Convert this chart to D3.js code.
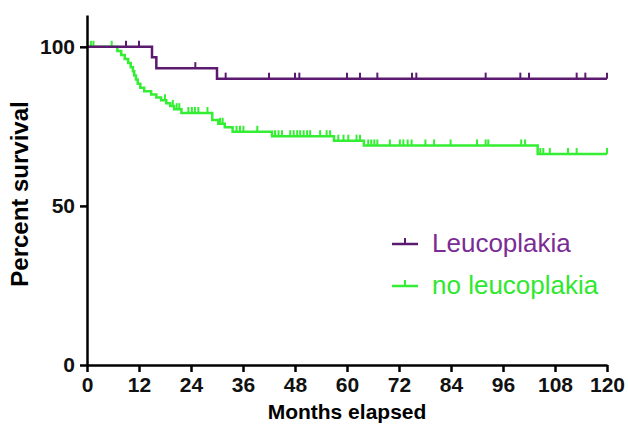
<!DOCTYPE html>
<html lang="en">
<head>
<meta charset="UTF-8">
<title>Survival curves</title>
<script src="https://cdnjs.cloudflare.com/ajax/libs/d3/7.8.5/d3.min.js"></script>
<style>
    body { margin: 0; background: #fff; }
    svg { display: block; font-family: "Liberation Sans", Arial, sans-serif; }
    .axis path, .axis line { stroke: #000; stroke-width: 2.5px; }
    .axis text { font-size: 21px; font-weight: bold; fill: #111; }
</style>
</head>
<body>
<div id="chart"></div>
<script>
// Leucoplakia group
const leucoEventMonths   = [15.0, 16.0, 30.0];
const leucoEventSurvival = [96.7, 93.3, 90.0];
const leucoCensorMonths  = [9, 12, 25, 32, 42, 48, 49, 60, 63, 67, 75, 76, 92, 100, 102, 113, 115, 120];

// no leucoplakia group
const noLeucoEventMonths   = [7.0, 7.9, 8.7, 9.5, 10.1, 10.6, 10.9, 11.3, 11.7, 12.3, 13.2, 14.8, 16.0, 17.1, 18.3, 19.2, 20.1, 21.8, 28.9, 30.3, 31.8, 33.6, 42.7, 57.0, 63.9, 104.0];
const noLeucoEventSurvival = [98.7, 97.4, 96.2, 94.9, 93.6, 92.3, 91.0, 89.7, 88.4, 87.1, 86.0, 85.0, 84.1, 83.2, 82.3, 81.4, 80.4, 79.2, 77.0, 75.8, 74.7, 73.3, 71.9, 70.5, 69.0, 66.3];
const noLeucoCensorMonths  = [0.9, 1.5, 5.7, 18.0, 19.8, 20.7, 21.3, 23.4, 24.2, 24.9, 25.7, 27.8, 30.7, 31.3, 34.5, 35.3, 36.1, 39.3,
    43.4, 44.2, 45.0, 46.9, 47.7, 48.5, 49.2, 50.0, 50.8, 51.5, 53.8, 55.3, 56.1, 58.0, 59.2, 60.3, 62.2, 63.0,
    64.9, 65.6, 66.3, 67.0, 69.9, 72.2, 73.0, 74.0, 74.9, 78.1, 80.1, 83.9, 90.0, 92.0, 92.6, 100.2, 101.1,
    104.6, 105.3, 106.8, 111.0, 113.0, 120];

const groupNames  = ["Leucoplakia", "no leucoplakia"];
const lineColors  = ["#5b1a70", "#33ee33"];
const textColors  = ["#7b2c94", "#2ee82e"];

const xTicks = [0, 12, 24, 36, 48, 60, 72, 84, 96, 108, 120];
const yTicks = [0, 50, 100];
const maxMonth = 120;

const width = 628, height = 427;
const margin = { top: 15, right: 21, bottom: 62, left: 87 };

const svg = d3.select("#chart").append("svg")
    .attr("width", width)
    .attr("height", height);

const x = d3.scaleLinear().domain([0, 120]).range([margin.left, width - margin.right]);
const y = d3.scaleLinear().domain([0, 110]).range([height - margin.bottom, margin.top]);

function stepPoints(months, surv) {
    const pts = [[0, 100]];
    months.forEach((m, i) => pts.push([m, surv[i]]));
    pts.push([maxMonth, surv[surv.length - 1]]);
    return pts;
}

function survivalAt(months, surv, t) {
    const i = d3.bisectRight(months, t);
    return i === 0 ? 100 : surv[i - 1];
}

const groups = [
    { months: leucoEventMonths, surv: leucoEventSurvival, censor: leucoCensorMonths },
    { months: noLeucoEventMonths, surv: noLeucoEventSurvival, censor: noLeucoCensorMonths }
];

const line = d3.line()
    .x(d => x(d[0]))
    .y(d => y(d[1]))
    .curve(d3.curveStepAfter);

// draw green first so purple sits on top at 100%
[1, 0].forEach(gi => {
    const g = groups[gi];
    svg.append("path")
        .attr("d", line(stepPoints(g.months, g.surv)))
        .attr("fill", "none")
        .attr("stroke", lineColors[gi])
        .attr("stroke-width", 2.5);

    svg.append("g")
        .selectAll("line")
        .data(g.censor)
        .enter().append("line")
        .attr("x1", d => x(d))
        .attr("x2", d => x(d))
        .attr("y1", d => y(survivalAt(g.months, g.surv, d)))
        .attr("y2", d => y(survivalAt(g.months, g.surv, d)) - 6)
        .attr("stroke", lineColors[gi])
        .attr("stroke-width", 2);
});

// axes
svg.append("g")
    .attr("class", "axis")
    .attr("transform", `translate(0,${y(0)})`)
    .call(d3.axisBottom(x).tickValues(xTicks).tickSize(7).tickPadding(5).tickSizeOuter(0));

svg.append("g")
    .attr("class", "axis")
    .attr("transform", `translate(${x(0)},0)`)
    .call(d3.axisLeft(y).tickValues(yTicks).tickSize(7).tickPadding(5).tickSizeOuter(0));

svg.selectAll(".axis .domain").attr("stroke-width", 2.5);

// axis titles
svg.append("text")
    .attr("transform", `translate(28,${(y(0) + y(110)) / 2 + 4}) rotate(-90)`)
    .attr("text-anchor", "middle")
    .style("font-size", "24px")
    .style("font-weight", "bold")
    .text("Percent survival");

svg.append("text")
    .attr("x", x(60))
    .attr("y", 419)
    .attr("text-anchor", "middle")
    .style("font-size", "21px")
    .style("font-weight", "bold")
    .text("Months elapsed");

// legend
const legend = svg.append("g").attr("transform", "translate(392,244)");
groupNames.forEach((name, i) => {
    const row = legend.append("g").attr("transform", `translate(0,${i * 42})`);
    row.append("line")
        .attr("x1", 0).attr("x2", 26)
        .attr("stroke", lineColors[i]).attr("stroke-width", 2.5);
    row.append("line")
        .attr("x1", 13).attr("x2", 13).attr("y1", 0).attr("y2", -6)
        .attr("stroke", lineColors[i]).attr("stroke-width", 2);
    row.append("text")
        .attr("x", 40)
        .attr("y", 8)
        .style("font-size", "26px")
        .style("fill", textColors[i])
        .text(name);
});
</script>
</body>
</html>
